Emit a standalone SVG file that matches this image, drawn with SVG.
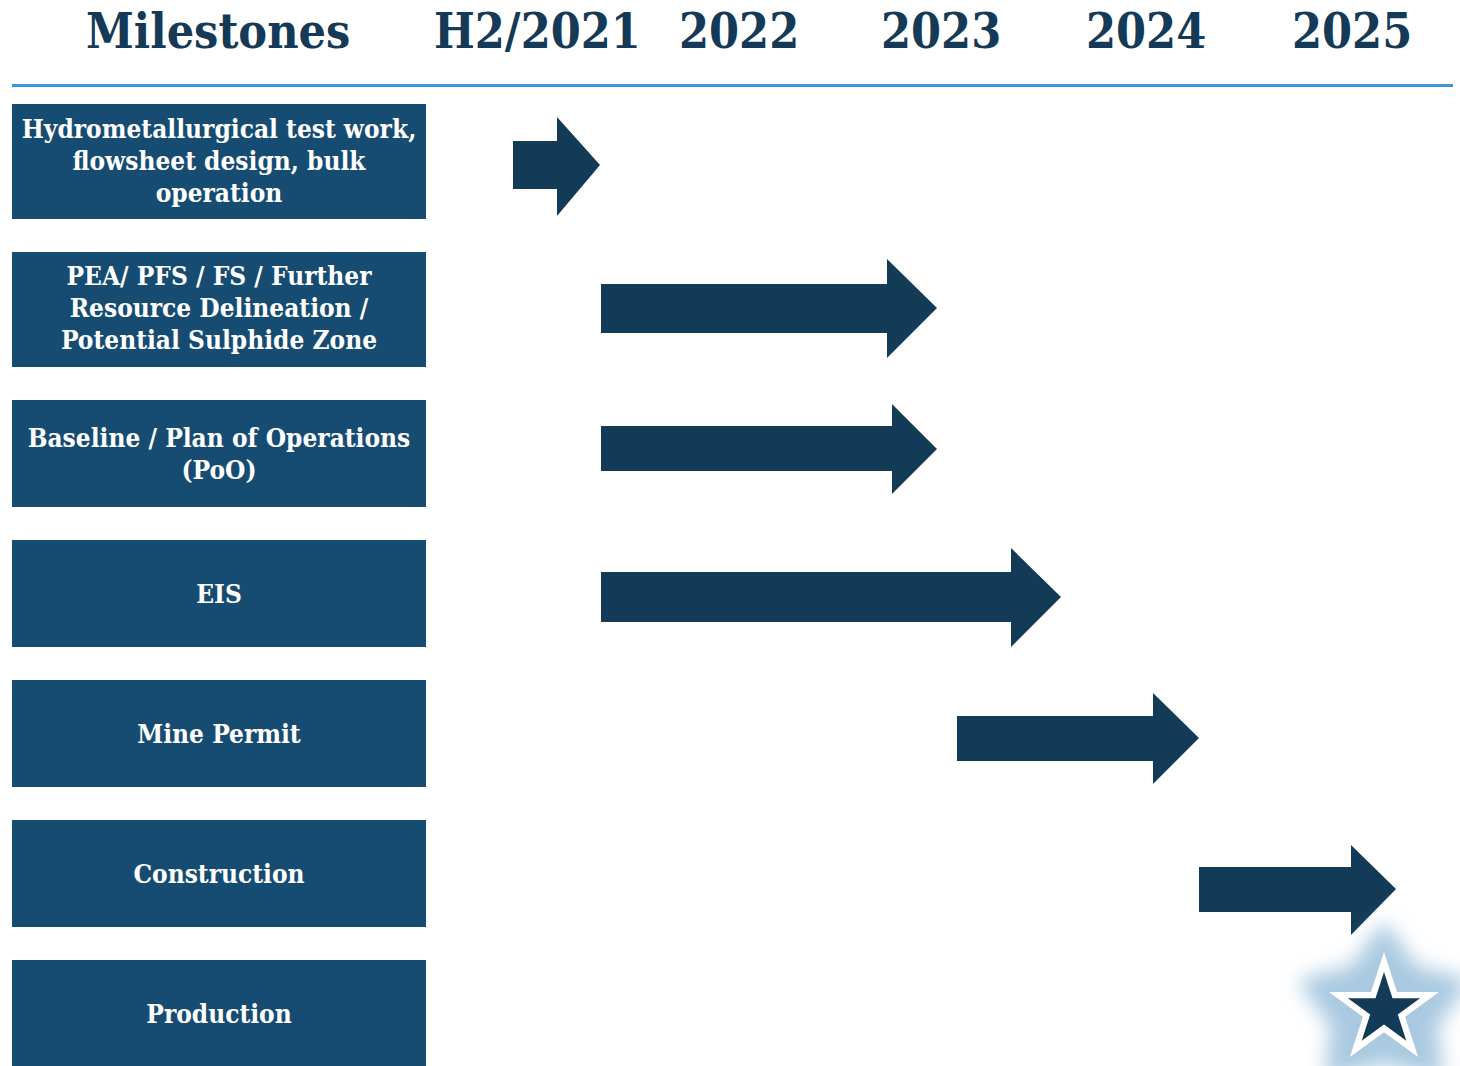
<svg xmlns="http://www.w3.org/2000/svg" width="1460" height="1066" viewBox="0 0 1460 1066">
<defs>
<style>
.hdr{font-family:"DejaVu Serif Condensed","DejaVu Serif","Liberation Serif",serif;font-stretch:condensed;font-weight:bold;font-size:48px;fill:#143a57}
.box{fill:#174c72}
.lbl{font-family:"DejaVu Serif Condensed","DejaVu Serif","Liberation Serif",serif;font-stretch:condensed;font-weight:bold;font-size:26px;fill:#ffffff;text-anchor:middle}
.arrow{fill:#133a57}
</style>
<filter id="glow" x="-50%" y="-50%" width="200%" height="200%">
<feGaussianBlur stdDeviation="10"/>
</filter>
</defs>
<rect width="1460" height="1066" fill="#ffffff"/>
<g id="header">
<text class="hdr" x="86" y="48">Milestones</text>
<text class="hdr" x="434" y="48">H2/2021</text>
<text class="hdr" x="679" y="48">2022</text>
<text class="hdr" x="881" y="48">2023</text>
<text class="hdr" x="1086" y="48">2024</text>
<text class="hdr" x="1292" y="48">2025</text>
<rect x="12" y="84" width="1441" height="3" fill="#3b97dc"/>
</g>
<g id="node-hydro">
<rect class="box" x="12" y="104" width="414" height="115"/>
<text class="lbl" x="219" y="138">Hydrometallurgical test work,</text>
<text class="lbl" x="219" y="170">flowsheet design, bulk</text>
<text class="lbl" x="219" y="202">operation</text>
</g>
<g id="node-pea">
<rect class="box" x="12" y="252" width="414" height="115"/>
<text class="lbl" x="219" y="285">PEA/ PFS / FS / Further</text>
<text class="lbl" x="219" y="317">Resource Delineation /</text>
<text class="lbl" x="219" y="349">Potential Sulphide Zone</text>
</g>
<g id="node-baseline">
<rect class="box" x="12" y="400" width="414" height="107"/>
<text class="lbl" x="219" y="447">Baseline / Plan of Operations</text>
<text class="lbl" x="219" y="479">(PoO)</text>
</g>
<g id="node-eis">
<rect class="box" x="12" y="540" width="414" height="107"/>
<text class="lbl" x="219" y="603">EIS</text>
</g>
<g id="node-permit">
<rect class="box" x="12" y="680" width="414" height="107"/>
<text class="lbl" x="219" y="743">Mine Permit</text>
</g>
<g id="node-construction">
<rect class="box" x="12" y="820" width="414" height="107"/>
<text class="lbl" x="219" y="883">Construction</text>
</g>
<g id="node-production">
<rect class="box" x="12" y="960" width="414" height="106"/>
<text class="lbl" x="219" y="1023">Production</text>
</g>
<g id="connectors">
<polygon class="arrow" points="513,141 557,141 557,117 600,165 557,216 557,189 513,189"/>
<polygon class="arrow" points="601,284 887,284 887,259 937,308 887,358 887,333 601,333"/>
<polygon class="arrow" points="601,426 892,426 892,404 937,449 892,494 892,471 601,471"/>
<polygon class="arrow" points="601,572 1011,572 1011,548 1061,597 1011,647 1011,622 601,622"/>
<polygon class="arrow" points="957,716 1153,716 1153,693 1199,738 1153,784 1153,761 957,761"/>
<polygon class="arrow" points="1199,867 1351,867 1351,845 1396,889 1351,935 1351,912 1199,912"/>
</g>
<g id="star" transform="translate(1384,1010)">
<polygon points="0,-78 28,-38 76,-26 46,14 52,62 0,46 -52,62 -46,14 -76,-26 -28,-38" fill="#a9c9e0" stroke="#a9c9e0" stroke-width="14" stroke-linejoin="round" filter="url(#glow)"/>
<polygon points="0,-58 13.0,-17.9 55.2,-17.9 21.1,6.8 34.1,46.9 0,22.2 -34.1,46.9 -21.1,6.8 -55.2,-17.9 -13.0,-17.9" fill="#ffffff"/>
<polygon points="0,-38 8.5,-11.7 36.1,-11.7 13.8,4.5 22.3,30.7 0,14.5 -22.3,30.7 -13.8,4.5 -36.1,-11.7 -8.5,-11.7" fill="#133a57"/>
</g>
</svg>
